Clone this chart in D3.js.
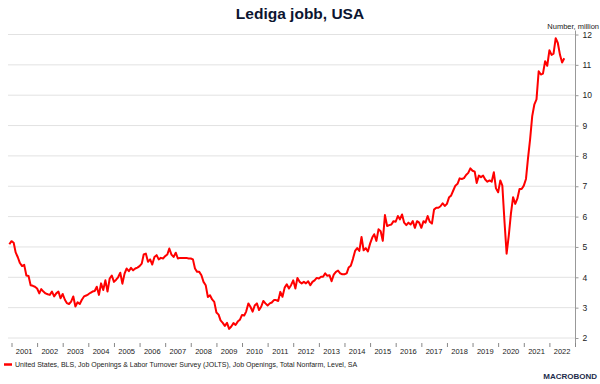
<!DOCTYPE html>
<html>
<head>
<meta charset="utf-8">
<script src="https://cdn.jsdelivr.net/npm/d3@7"></script>
<style>
  body { margin: 0; background: #fff; }
  svg { display: block; font-family: "Liberation Sans", Arial, sans-serif; }
</style>
</head>
<body>
<svg id="chart" width="600" height="384"></svg>
<script>
// monthly job openings, million, starting Dec 2000
const startMonth = new Date(2000, 11, 1);
const openings = [
  5.09, 5.19, 5.14, 4.82, 4.66, 4.47, 4.37, 4.41, 4.06, 4.04, 3.74, 3.72,
  3.69, 3.63, 3.47, 3.61, 3.53, 3.47, 3.44, 3.42, 3.53, 3.37, 3.47, 3.53,
  3.31, 3.45, 3.26, 3.15, 3.12, 3.20, 3.37, 3.04, 3.18, 3.12, 3.26, 3.37,
  3.40, 3.44, 3.49, 3.53, 3.55, 3.69, 3.42, 3.80, 3.58, 3.90, 3.53, 3.96,
  4.06, 3.85, 3.92, 4.00, 4.15, 3.79, 4.12, 4.29, 4.20, 4.31, 4.23, 4.29,
  4.32, 4.37, 4.45, 4.75, 4.78, 4.51, 4.59, 4.42, 4.67, 4.73, 4.59, 4.64,
  4.62, 4.70, 4.75, 4.95, 4.75, 4.67, 4.81, 4.62, 4.64, 4.64, 4.64, 4.64,
  4.62, 4.62, 4.59, 4.29, 4.18, 4.18, 4.07, 3.85, 3.74, 3.35, 3.41, 3.27,
  3.19, 2.84, 2.77, 2.58, 2.50, 2.40, 2.50, 2.30, 2.38, 2.49, 2.43, 2.54,
  2.60, 2.76, 2.74, 2.87, 3.14, 3.03, 2.87, 3.07, 3.14, 2.92, 3.03, 3.22,
  3.14, 3.07, 3.14, 3.17, 3.25, 3.25, 3.22, 3.52, 3.36, 3.66, 3.77, 3.63,
  3.74, 3.90, 3.63, 3.98, 3.85, 3.80, 3.85, 3.80, 3.87, 3.74, 3.85, 3.90,
  3.98, 3.96, 4.02, 4.02, 4.13, 4.05, 4.07, 3.87, 4.09, 4.18, 4.22, 4.13,
  4.10, 4.10, 4.13, 4.32, 4.38, 4.60, 4.87, 4.96, 4.87, 5.33, 4.89, 4.96,
  4.85, 5.11, 5.31, 5.42, 5.20, 5.58, 5.52, 5.20, 6.05, 5.69, 5.72, 5.74,
  5.85, 5.83, 6.02, 5.91, 6.07, 5.80, 5.72, 5.80, 5.74, 5.85, 5.63, 5.85,
  5.80, 5.63, 5.85, 5.80, 6.02, 5.83, 5.77, 6.23, 6.29, 6.29, 6.34, 6.44,
  6.35, 6.42, 6.64, 6.69, 6.86, 7.02, 7.08, 7.26, 7.24, 7.27, 7.37, 7.44,
  7.59, 7.51, 7.48, 7.11, 7.35, 7.30, 7.35, 7.22, 7.15, 7.19, 7.15, 7.46,
  6.93, 6.80, 7.19, 7.02, 5.82, 4.78, 5.38, 6.09, 6.64, 6.42, 6.59, 6.91,
  6.91, 7.02, 7.24, 7.90, 8.55, 9.31, 9.70, 9.86, 10.79, 10.68, 10.71, 11.12,
  10.97, 11.48, 11.33, 11.37, 11.88, 11.72, 11.33, 11.08, 11.22
];
const yTicks = [2, 3, 4, 5, 6, 7, 8, 9, 10, 11, 12];
const years = d3.range(2001, 2023);

const title = 'Lediga jobb, USA';
const unitLabel = 'Number, million';
const legendLabel = 'United States, BLS, Job Openings & Labor Turnover Survey (JOLTS), Job Openings, Total Nonfarm, Level, SA';

const data = openings.map((v, i) => ({
  date: d3.timeMonth.offset(startMonth, i),
  value: v
}));

const svg = d3.select('#chart');
const plotL = 8, plotR = 575, plotT = 34.5, plotB = 338;

const x = d3.scaleTime()
  .domain([new Date(2000, 10, 12), new Date(2023, 0, 1)])
  .range([plotL, plotR]);
const y = d3.scaleLinear().domain([2, 12]).range([plotB, plotT]);

svg.append('rect').attr('width', 600).attr('height', 384).attr('fill', '#fff');

// title
svg.append('text')
  .attr('x', 300).attr('y', 19)
  .attr('text-anchor', 'middle')
  .attr('font-size', 15.5).attr('font-weight', 'bold')
  .attr('fill', '#0c1530')
  .text(title);

svg.append('text')
  .attr('x', 599).attr('y', 29)
  .attr('text-anchor', 'end')
  .attr('font-size', 7.5).attr('fill', '#222')
  .text(unitLabel);

// grid
svg.append('g')
  .selectAll('line')
  .data(yTicks)
  .join('line')
  .attr('x1', plotL).attr('x2', plotR)
  .attr('y1', d => y(d)).attr('y2', d => y(d))
  .attr('stroke', '#e2e2e2').attr('stroke-width', 1);

// right axis
const yAxis = svg.append('g')
  .attr('transform', `translate(${plotR + 0.5},0)`)
  .call(d3.axisRight(y).tickValues(yTicks).tickSize(3).tickPadding(4));
yAxis.select('.domain').attr('stroke', '#999').attr('d', `M0,${plotT - 4}V${plotB + 8}`);
yAxis.selectAll('.tick line').attr('stroke', '#999');
yAxis.selectAll('.tick text').attr('font-size', 8.5).attr('fill', '#222')
  .attr('font-family', '"Liberation Sans", Arial, sans-serif');

// x axis: ticks at year starts, labels mid year
const xg = svg.append('g');
xg.selectAll('line')
  .data(d3.range(2001, 2024))
  .join('line')
  .attr('x1', d => x(new Date(d, 0, 1)) + 0.5)
  .attr('x2', d => x(new Date(d, 0, 1)) + 0.5)
  .attr('y1', 343).attr('y2', 347)
  .attr('stroke', '#888');
xg.selectAll('text')
  .data(years)
  .join('text')
  .attr('x', d => x(new Date(d, 6, 1)))
  .attr('y', 353.5)
  .attr('text-anchor', 'middle')
  .attr('font-size', 7.5).attr('fill', '#222')
  .text(d => d);

// series
const line = d3.line()
  .x(d => x(d.date))
  .y(d => y(d.value));

svg.append('path')
  .datum(data)
  .attr('d', line)
  .attr('fill', 'none')
  .attr('stroke', '#ff0000')
  .attr('stroke-width', 2)
  .attr('stroke-linejoin', 'round');

// legend
svg.append('line')
  .attr('x1', 4).attr('x2', 12)
  .attr('y1', 364.5).attr('y2', 364.5)
  .attr('stroke', '#ff0000').attr('stroke-width', 2.5);
svg.append('text')
  .attr('x', 15).attr('y', 367)
  .attr('font-size', 7).attr('fill', '#222')
  .text(legendLabel);

// logo
svg.append('text')
  .attr('x', 597).attr('y', 379)
  .attr('text-anchor', 'end')
  .attr('font-size', 8).attr('font-weight', 'bold')
  .attr('fill', '#1d2c4c')
  .text('MACROBOND');
</script>
</body>
</html>
